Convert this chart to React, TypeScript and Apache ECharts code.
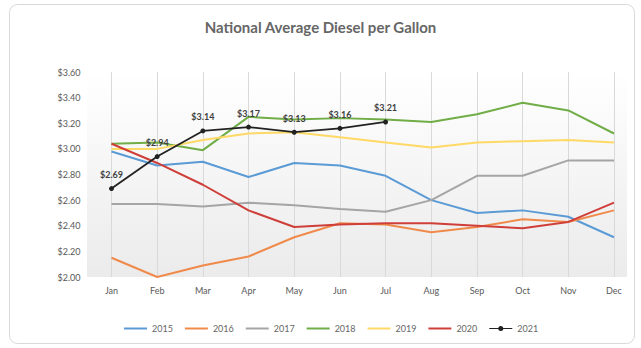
import React, { useEffect, useRef } from "react";
import * as echarts from "echarts";

const months = ["Jan", "Feb", "Mar", "Apr", "May", "Jun", "Jul", "Aug", "Sep", "Oct", "Nov", "Dec"];

const y2015 = [2.98, 2.87, 2.9, 2.78, 2.89, 2.87, 2.79, 2.6, 2.5, 2.52, 2.47, 2.31];
const y2016 = [2.15, 2.0, 2.09, 2.16, 2.31, 2.42, 2.41, 2.35, 2.39, 2.45, 2.43, 2.52];
const y2017 = [2.57, 2.57, 2.55, 2.58, 2.56, 2.53, 2.51, 2.6, 2.79, 2.79, 2.91, 2.91];
const y2018 = [3.04, 3.05, 2.99, 3.25, 3.23, 3.24, 3.23, 3.21, 3.27, 3.36, 3.3, 3.12];
const y2019 = [3.0, 3.0, 3.07, 3.12, 3.13, 3.09, 3.05, 3.01, 3.05, 3.06, 3.07, 3.05];
const y2020 = [3.04, 2.89, 2.72, 2.52, 2.39, 2.41, 2.42, 2.42, 2.4, 2.38, 2.43, 2.58];
const y2021 = [2.69, 2.94, 3.14, 3.17, 3.13, 3.16, 3.21];

const seriesNames = ["2015", "2016", "2017", "2018", "2019", "2020", "2021"];
const seriesData = [y2015, y2016, y2017, y2018, y2019, y2020, y2021];
const seriesColors = ["#5B9BD5", "#F08A4B", "#A5A5A5", "#70AD47", "#FFD966", "#CF3F3A", "#222222"];

const FONT = "Lato, 'Open Sans', sans-serif";

// Legend keys: a plain stroke for the past years, a stroke with a dot for the current one.
const LINE_ICON = "path://M0,0H23V2H0Z";
const DOT_LINE_ICON = "path://M0,2H23V3H0Z M9,2.5A2.5,2.5 0 1,1 14,2.5A2.5,2.5 0 1,1 9,2.5Z";

export default function App() {
  const ref = useRef<HTMLDivElement>(null);

  useEffect(() => {
    if (!ref.current) return;
    const chart = echarts.init(ref.current, null, { renderer: "svg" });

    const series = seriesNames.map((name, i) => {
      const isCurrent = name === "2021";
      return {
        name,
        type: "line",
        data: seriesData[i],
        symbol: isCurrent ? "circle" : "none",
        symbolSize: 5,
        showSymbol: isCurrent,
        z: isCurrent ? 5 : 2,
        lineStyle: { width: isCurrent ? 1.8 : 2, color: seriesColors[i] },
        itemStyle: { color: seriesColors[i] },
        label: isCurrent
          ? {
              show: true,
              position: "top",
              distance: 7,
              fontSize: 9,
              fontWeight: "bold",
              fontFamily: FONT,
              color: "#404040",
              formatter: (p: any) => "$" + Number(p.value).toFixed(2),
            }
          : { show: false },
      };
    });

    chart.setOption({
      animation: false,
      backgroundColor: "#ffffff",
      title: {
        text: "National Average Diesel per Gallon",
        left: "center",
        top: 14,
        textStyle: { fontFamily: FONT, fontSize: 15, fontWeight: "bold", color: "#666666" },
      },
      graphic: [
        {
          type: "rect",
          z: -20,
          shape: { x: 9.5, y: 4.5, width: 625, height: 339, r: 8 },
          style: { fill: "#ffffff", stroke: "#d9d9d9", lineWidth: 1 },
        },
        {
          type: "rect",
          z: -10,
          shape: { x: 87, y: 72, width: 540, height: 205 },
          style: {
            fill: new echarts.graphic.LinearGradient(0, 0, 0, 1, [
              { offset: 0, color: "#ffffff" },
              { offset: 1, color: "#ebebeb" },
            ]),
          },
        },
      ],
      legend: {
        data: seriesNames.map((name) => ({
          name,
          icon: name === "2021" ? DOT_LINE_ICON : LINE_ICON,
        })),
        left: 119,
        top: 319,
        itemWidth: 23,
        itemHeight: 8,
        itemGap: 12,
        symbolKeepAspect: true,
        textStyle: { fontFamily: FONT, fontSize: 9, color: "#666666" },
      },
      grid: { left: 111.5, right: 27, top: 72, bottom: 71 },
      xAxis: {
        type: "category",
        data: months,
        boundaryGap: false,
        axisLine: { show: false },
        axisTick: { show: false },
        axisLabel: { margin: 9, fontSize: 9, fontFamily: FONT, color: "#595959" },
        splitLine: { show: true, lineStyle: { color: "#d9d9d9", width: 1 } },
      },
      yAxis: {
        type: "value",
        min: 2,
        max: 3.6,
        interval: 0.2,
        axisLine: { show: false },
        axisTick: { show: false },
        splitLine: { show: false },
        axisLabel: {
          margin: 31,
          fontSize: 9,
          fontFamily: FONT,
          color: "#595959",
          formatter: (v: number) => "$" + v.toFixed(2),
        },
      },
      series,
    });

    return () => chart.dispose();
  }, []);

  return (
    <div
      ref={ref}
      style={{ position: "fixed", left: 0, top: 0, width: 641, height: 348 }}
    />
  );
}
